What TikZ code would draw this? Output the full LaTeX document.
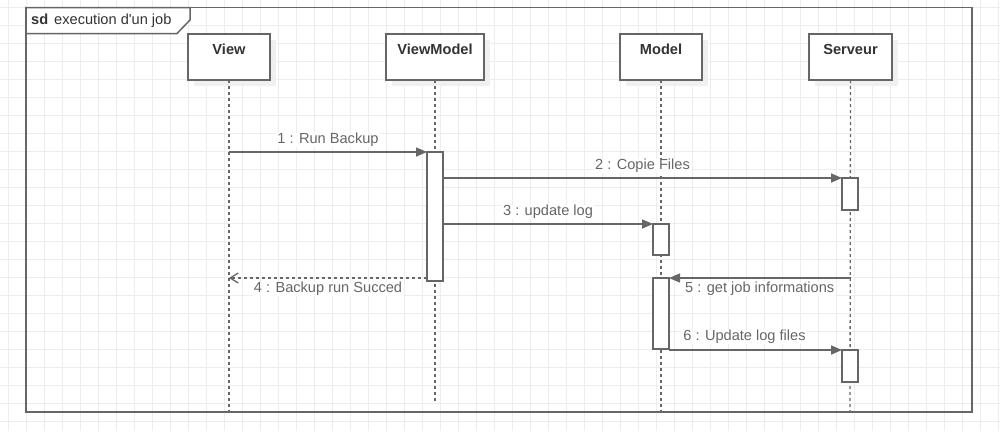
\documentclass[tikz,border=0pt]{standalone}
\usepackage{fontspec}
\setmainfont{Liberation Sans}
\newfontfamily\titlefont{Liberation Sans}[Ligatures=TeXOff]
\usetikzlibrary{positioning}
\usetikzlibrary{arrows.meta}
\usetikzlibrary{shadows}
\definecolor{linegray}{HTML}{666666}
\definecolor{textgray}{HTML}{333333}
\definecolor{gridgray}{HTML}{EDEDED}
\tikzset{seqdiag/.style={x=1pt, y=-1pt, font=\fontsize{14.6}{17}\selectfont, text=textgray},
head/.style={draw=linegray, fill=white, line width=1.6pt, minimum width=82pt, inner xsep=0pt, inner ysep=9.75pt, outer sep=0pt,
text height=10.5pt, text depth=16pt, font=\fontsize{14.6}{17}\selectfont\bfseries,
drop shadow={shadow xshift=6pt, shadow yshift=-6pt, fill=black!6, opacity=1}},
act/.style={draw=linegray, fill=white, line width=1.5pt, minimum width=16pt, inner sep=0pt, outer sep=0pt, anchor=north}}

\begin{document}
\begin{tikzpicture}[seqdiag, gridline/.style={gridgray, line width=1pt},
	lifeline/.style={linegray, line width=1.3pt, dash pattern=on 3pt off 3pt},
	msg/.style={linegray, line width=1.5pt, -{Triangle[length=11pt, width=9pt]}},
	ret/.style={linegray, line width=1.3pt, dash pattern=on 3pt off 3pt, -{Straight Barb[length=8pt, width=10pt, line width=1.3pt]}},
	lbl/.style={fill=white, inner xsep=1pt, inner ysep=0.5pt}]

	\useasboundingbox (0,0) rectangle (1000,431);
	% background grid
	\foreach \gx in {8,26,...,998} \draw[gridline] (\gx,0) -- (\gx,431);
	\foreach \gy in {7,25,...,421} \draw[gridline] (0,\gy) -- (1000,\gy);

	% frame
	\draw[linegray, line width=1.5pt] (26,7.5) rectangle (972,412);
	\draw[linegray, line width=1.5pt, fill=white] (26,7.5) -- (190,7.5) -- (190,20) -- (177,33.5) -- (26,33.5) -- cycle;
	\node[anchor=west, inner sep=0pt] (title) at (31,20.5) {\titlefont\textbf{sd}\hspace{6pt}execution d'un job};

	% lifelines
	\node[head, anchor=north] (view) at (229,34) {View};
	\node[head, minimum width=98pt] (vm) [right=116pt of view] {ViewModel};
	\node[head] (model) [right=136pt of vm] {Model};
	\node[head, minimum width=83pt] (srv) [right=107pt of model] {Serveur};

	\coordinate (viewEnd) at (229,412);
	\coordinate (vmEnd) at (435,402);
	\coordinate (modelEnd) at (661,412);
	\coordinate (srvEnd) at (850,412);
	\draw[lifeline] (view.south) -- (viewEnd);
	\draw[lifeline] (vm.south) -- (vmEnd);
	\draw[lifeline] (model.south) -- (modelEnd);
	\draw[lifeline] (srv.south) -- (srvEnd);

	% activations
	\node[act, minimum height=129pt] (a1) at (435,152) {};
	\node[act, minimum height=32pt] (s1) at (850,178) {};
	\node[act, minimum height=31pt] (m1) at (661,224) {};
	\node[act, minimum height=71pt] (m2) at (661,278) {};
	\node[act, minimum height=32pt] (s2) at (850,350) {};

	% messages
	\draw[msg] (view |- a1.north) -- node[lbl, yshift=12pt] {1 : Run Backup} (a1.north west);
	\draw[msg] (a1.east |- s1.north) -- node[lbl, yshift=12pt] {2 : Copie Files} (s1.north west);
	\draw[msg] (a1.east |- m1.north) -- node[lbl, yshift=12pt] {3 : update log} (m1.north west);
	\draw[ret] ([yshift=3pt]a1.south west) -- node[lbl, yshift=-11pt] {4 : Backup run Succed} ([yshift=3pt]view |- a1.south);
	\draw[msg] (srv |- m2.north) -- node[lbl, yshift=-11pt] {5 : get job informations} (m2.north east);
	\draw[msg] (m2.east |- s2.north) -- node[lbl, yshift=13pt, xshift=-11pt] {6 : Update log files} (s2.north west);

\end{tikzpicture}
\end{document}
